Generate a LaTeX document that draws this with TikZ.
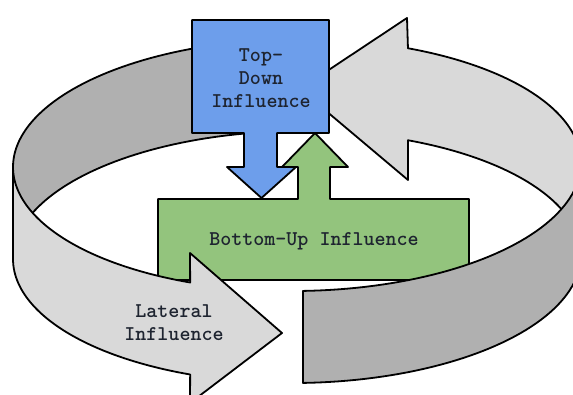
\documentclass[tikz,border=0pt]{standalone}
\usepackage{tikz}
\definecolor{tdblue}{HTML}{6D9EEB}
\definecolor{bugreen}{HTML}{93C47D}
\definecolor{ringdark}{HTML}{B0B0B0}
\definecolor{ringlight}{HTML}{D9D9D9}
\definecolor{infltext}{HTML}{1E2430}
\pgfmathdeclarefunction{rimx}{1}{\pgfmathparse{297+284*cos(#1)}}
\pgfmathdeclarefunction{topy}{1}{\pgfmathparse{165+126*sin(#1)-2*cos(#1)}}
\pgfmathdeclarefunction{boty}{1}{\pgfmathparse{257+126*sin(#1)-2*cos(#1)}}

\begin{document}
\begin{tikzpicture}[x=1pt,y=-1pt,line width=1.8pt,line join=round,
    ring/.style={draw=black},
    infl/.style={font=\fontsize{21}{23}\selectfont\ttfamily\bfseries,text=infltext,align=center}]
                                \useasboundingbox (0,0) rectangle (573,394);
                                \clip (0,0) rectangle (573,394);
                                \fill[white] (0,0) rectangle (573,394);
                                \path[ring,fill=ringdark] plot[domain=-95:-180,samples=50] ({rimx(\x)},{topy(\x)})
                                -- plot[domain=180:265,samples=50] ({rimx(\x)},{boty(\x)}) -- cycle;
                                \path[ring,fill=ringlight] ({rimx(-67)},{topy(-67)}) -- (407,18) -- (300,89) -- (408,180)
                                -- ({rimx(-67)},{boty(-67)})
                                -- plot[domain=-67:0,samples=50] ({rimx(\x)},{boty(\x)})
                                -- plot[domain=0:-67,samples=50] ({rimx(\x)},{topy(\x)}) -- cycle;
                                \path[ring,fill=bugreen] (158,199) -- (298,199) -- (298,167) -- (282,167) -- (315,133)
                                -- (348,167) -- (330,167) -- (330,199) -- (469,199) -- (469,280) -- (158,280) -- cycle;
                                \path[ring,fill=tdblue] (192,20) -- (329,20) -- (329,133) -- (277,133) -- (277,167)
                                -- (296,167) -- (261.5,198) -- (227,167) -- (244,167) -- (244,133) -- (192,133) -- cycle;
                                \path[ring,fill=ringlight] ({rimx(112.1)},{topy(112.1)}) -- (190,253) -- (282,333) -- (190,403)
                                -- ({rimx(112.1)},{boty(112.1)})
                                -- plot[domain=112.1:180,samples=50] ({rimx(\x)},{boty(\x)})
                                -- plot[domain=180:112.1,samples=50] ({rimx(\x)},{topy(\x)}) -- cycle;
                                \path[ring,fill=ringdark] plot[domain=88.8:0,samples=50] ({rimx(\x)},{topy(\x)})
                                -- plot[domain=0:88.8,samples=50] ({rimx(\x)},{boty(\x)}) -- cycle;
                                \node[infl] (TopDown) at (261,78) {Top-\\Down\\Influence};
                                \node[infl] (BottomUp) at (314,241) {Bottom-Up Influence};
                                \node[infl] (Lateral) at (174,323) {Lateral\\Influence};
                            \end{tikzpicture}
\end{document}
